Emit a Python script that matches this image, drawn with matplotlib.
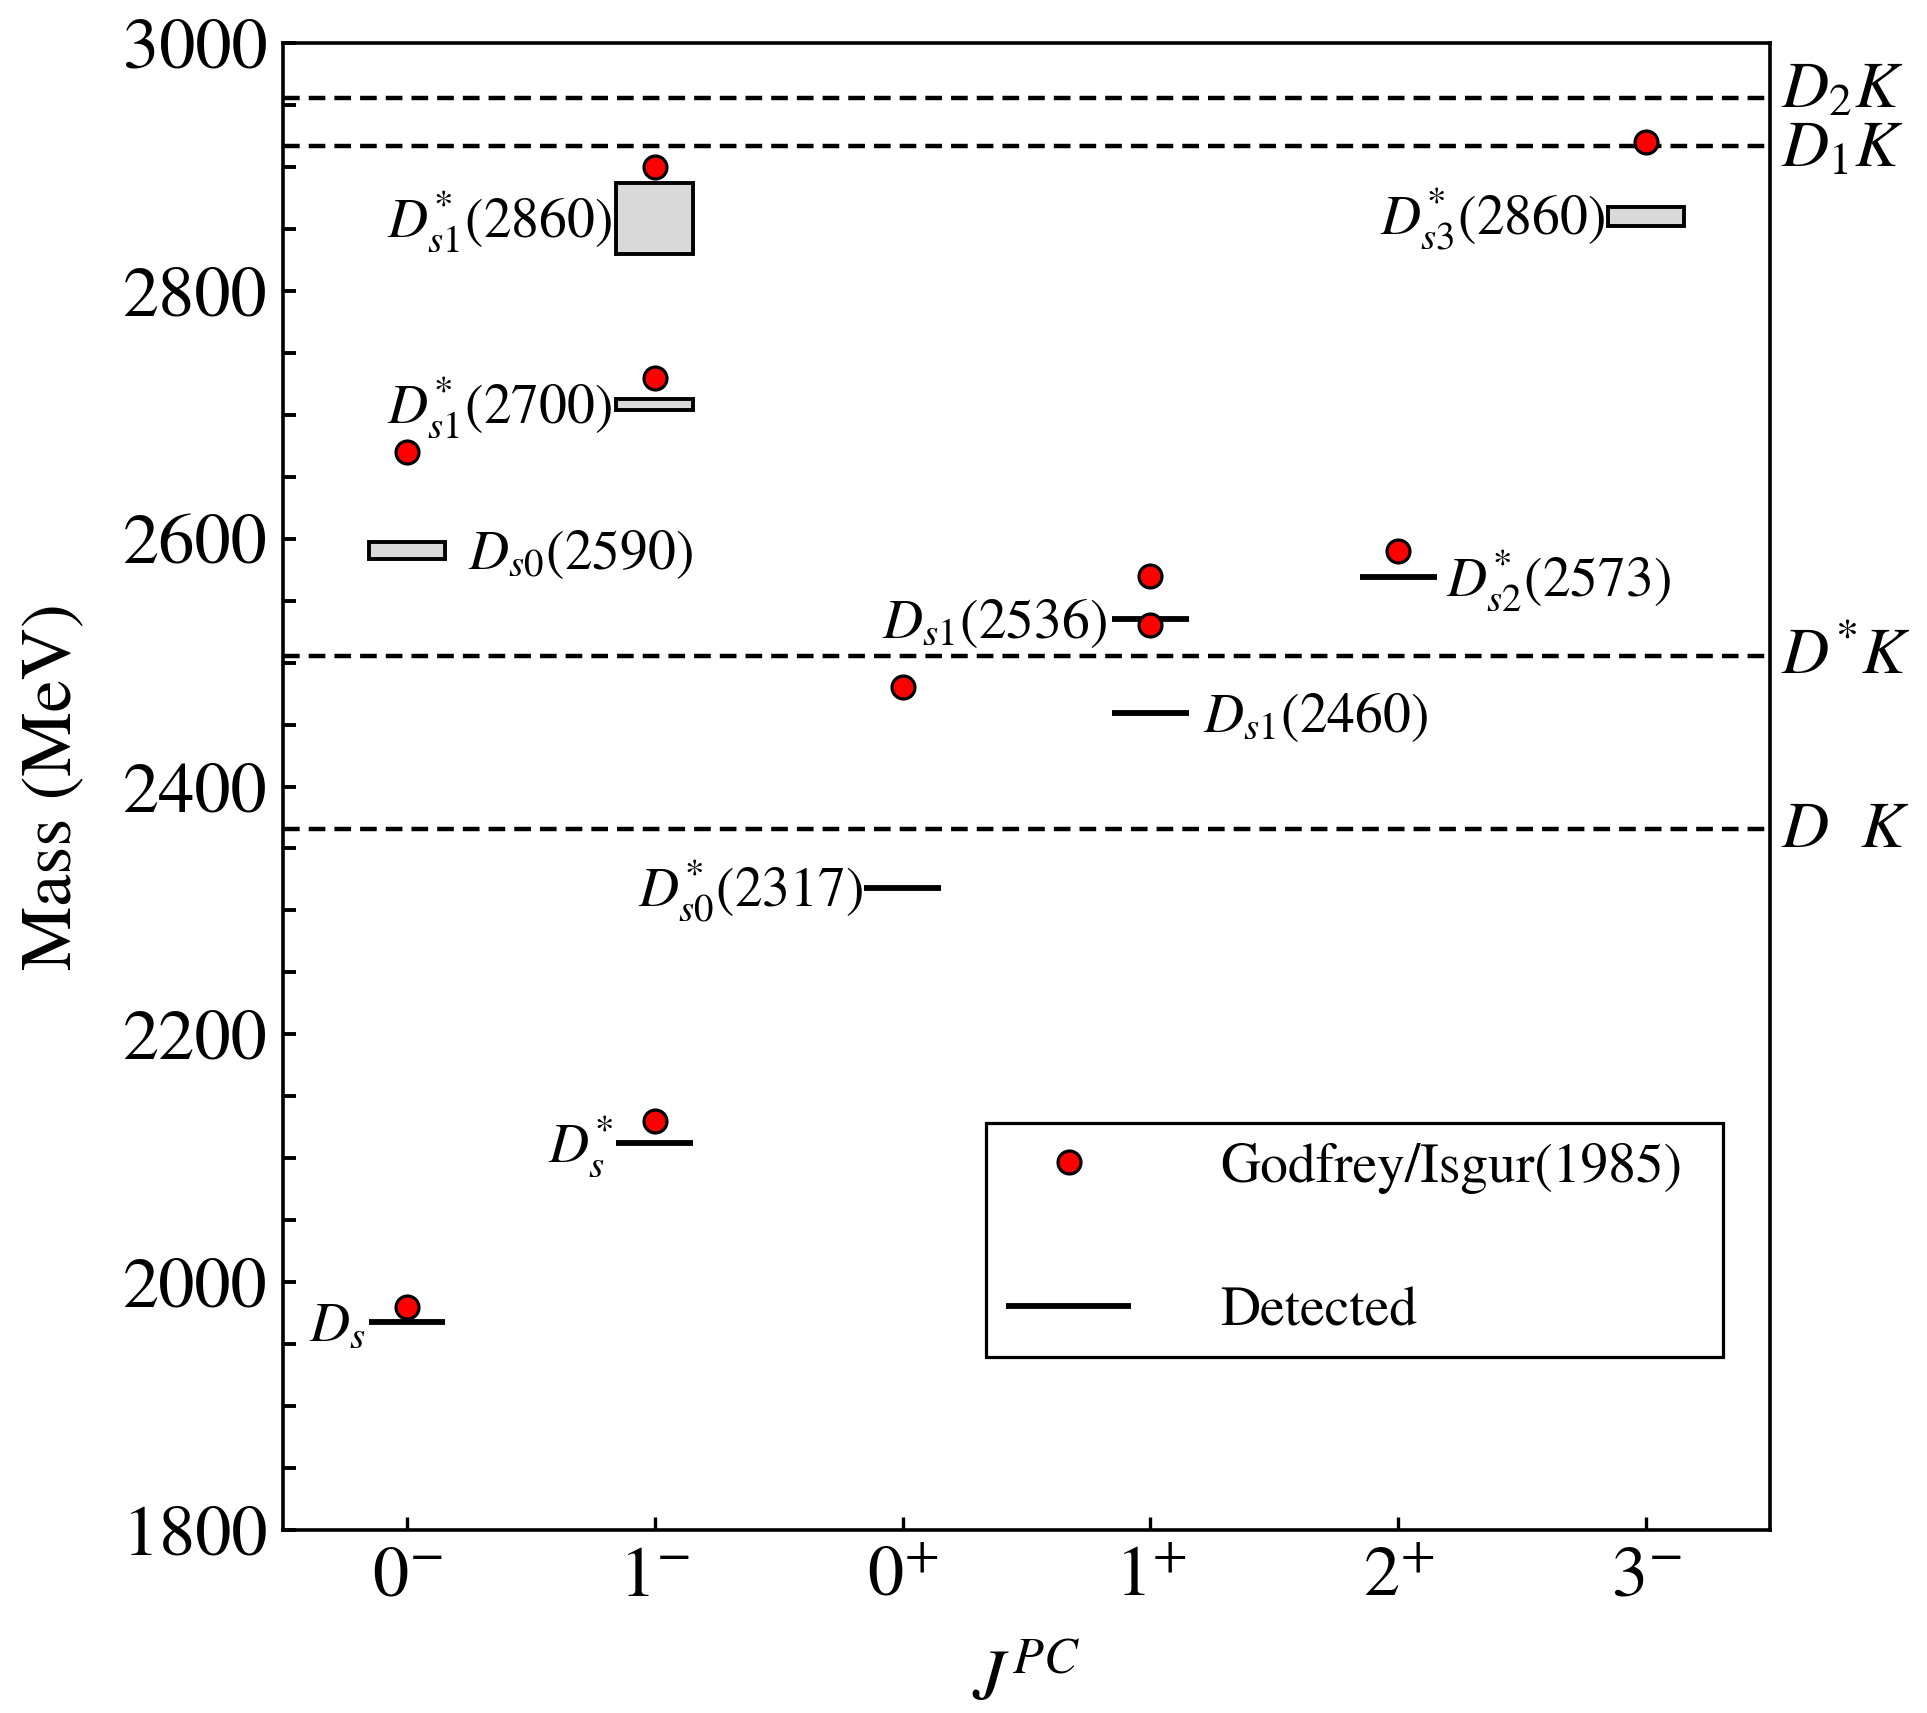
import matplotlib
matplotlib.use('Agg')
import matplotlib.pyplot as plt
import matplotlib.transforms as mtransforms
from matplotlib.ticker import MultipleLocator
import numpy as np

plt.rcParams['font.family'] = ['STIXGeneral', 'DejaVu Serif']
plt.rcParams['mathtext.fontset'] = 'stix'
plt.rcParams['lines.scale_dashes'] = False

# ---------------- data ----------------
categories = [r'$0^{-}$', r'$1^{-}$', r'$0^{+}$', r'$1^{+}$', r'$2^{+}$', r'$3^{-}$']

# Godfrey/Isgur (1985) predictions: category index, mass (MeV)
gi_x = [0, 0, 1, 1, 1, 2, 3, 3, 4, 5]
gi_mass = [1980, 2670, 2130, 2730, 2900, 2480, 2530, 2570, 2590, 2920]

# Detected (narrow) states
det_x = [0, 1, 2, 3, 3, 4]
det_mass = [1968, 2112, 2318, 2459, 2535, 2569]
det_labels = [r'$D_s$', r'$D^{*}_{s}$', r'$D^{*}_{s0}$(2317)', r'$D_{s1}$(2460)',
              r'$D_{s1}$(2536)', r'$D^{*}_{s2}$(2573)']

# Detected states with mass uncertainty bands
band_x = [0, 1, 1, 5]
band_low = [2584, 2704, 2830, 2852]
band_high = [2597, 2713, 2887, 2868]
band_labels = [r'$D_{s\mathit{0}}$(2590)', r'$D^{*}_{s1}$(2700)', r'$D^{*}_{s1}$(2860)',
               r'$D^{*}_{s3}$(2860)']

# Two-body thresholds
thr_mass = [2366, 2505, 2917, 2956]
thr_labels = [r'$D\ \ K$', r'$D^{*}K$', r'$D_{1}K$', r'$D_{2}K$']

# ---------------- layout / style (not data) ----------------
hw = 0.155
det_side = ['left', 'left', 'left', 'right', 'left', 'right']
det_gap = [2, 2, 1, 10, 4, 7]
band_side = ['right', 'left', 'left', 'left']
band_gap = [16, 3, 3, 2]
thr_voff = [-13, -13, -15, -7]

fig = plt.figure(figsize=(19.27, 17.13), dpi=100)
ax = fig.add_axes([0.1469, 0.1068, 0.7716, 0.8681])
ax.set_xlim(-0.5, 5.5)
ax.set_ylim(1800, 3000)

# thresholds
for m in thr_mass:
    ax.axhline(m, color='black', lw=3.2, ls=(0, (12, 6.5)), zorder=2)

# bands
blow = np.array(band_low)
bhigh = np.array(band_high)
ax.bar(band_x, bhigh - blow, bottom=blow, width=2 * hw, color='#d9d9d9',
       edgecolor='black', linewidth=2.8, zorder=3)

# detected lines
dx = np.array(det_x)
hl = ax.hlines(det_mass, dx - hw, dx + hw, colors='black', linewidth=4.2, zorder=3,
               label='Detected')

# GI points
pts, = ax.plot(gi_x, gi_mass, 'o', ms=16.5, mfc='#ff0000', mec='black', mew=2.3,
               zorder=5, label='Godfrey/Isgur(1985)')

LABEL_FS = 40
VOFF = -13.3


def put_label(x, m, text, side, gap):
    if side == 'left':
        ax.annotate(text, xy=(x - hw, m), xytext=(-gap, VOFF), textcoords='offset points',
                    ha='right', va='baseline', fontsize=LABEL_FS, zorder=6)
    else:
        ax.annotate(text, xy=(x + hw, m), xytext=(gap, VOFF), textcoords='offset points',
                    ha='left', va='baseline', fontsize=LABEL_FS, zorder=6)


for x, m, t, s, g in zip(det_x, det_mass, det_labels, det_side, det_gap):
    put_label(x, m, t, s, g)
for x, lo, hi, t, s, g in zip(band_x, band_low, band_high, band_labels, band_side, band_gap):
    put_label(x, (lo + hi) / 2, t, s, g)

trans = mtransforms.blended_transform_factory(ax.transAxes, ax.transData)
for m, t, v in zip(thr_mass, thr_labels, thr_voff):
    ax.annotate(t, xy=(1, m), xycoords=trans, xytext=(8, v), textcoords='offset points',
                ha='left', va='baseline', fontsize=47, annotation_clip=False)

# axes styling
ax.set_xticks(range(len(categories)))
ax.set_xticklabels(categories)
ax.yaxis.set_major_locator(MultipleLocator(200))
ax.yaxis.set_minor_locator(MultipleLocator(50))
ax.tick_params(axis='y', which='both', direction='in', length=9.5, width=2.8,
               left=True, right=False, labelsize=52, pad=11)
ax.tick_params(axis='x', which='both', direction='in', length=9.5, width=2.4,
               top=False, bottom=True, labelsize=52, pad=12)
for sp in ax.spines.values():
    sp.set_linewidth(2.6)

ax.set_ylabel('Mass (MeV)', fontsize=52)
ax.yaxis.set_label_coords(-0.132, 0.5)
ax.set_xlabel(r'$J^{PC}$', fontsize=52, labelpad=27)

leg = ax.legend(handles=[pts, hl], labels=['Godfrey/Isgur(1985)', 'Detected'],
                loc='center', bbox_to_anchor=(0.4728, 0.113, 0.4956, 0.164), mode='expand',
                fontsize=40, frameon=True, fancybox=False, edgecolor='black', framealpha=1,
                borderpad=0.36, labelspacing=1.67, handlelength=2.25, handletextpad=1.6,
                borderaxespad=0)
leg.get_frame().set_linewidth(2.3)
leg.set_zorder(10)

fig.savefig('out.png', dpi=100)
